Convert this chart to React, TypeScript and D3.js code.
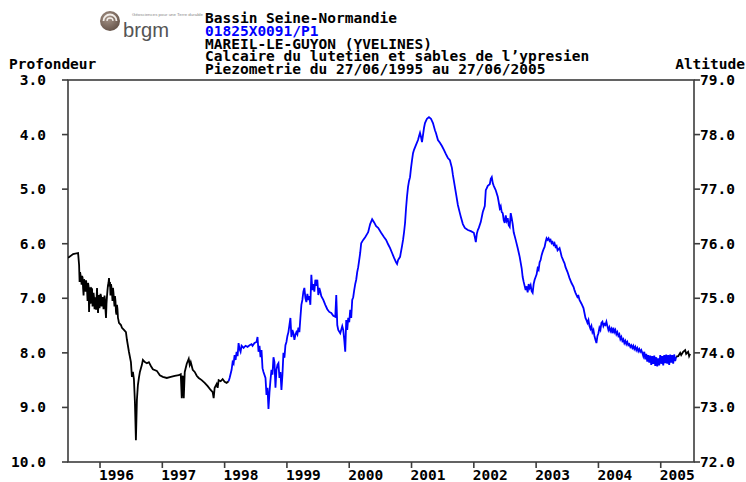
import React from "react";
import * as d3 from "d3";

// Decimal year, depth below ground (m)
const blackEarly: [number, number][] = [
  [1995.488, 6.26], [1995.568, 6.19], [1995.648, 6.17], [1995.664, 6.39], [1995.672, 6.7],
  [1995.68, 6.52], [1995.688, 6.58], [1995.696, 6.63], [1995.704, 6.75], [1995.712, 6.59],
  [1995.72, 6.62], [1995.728, 6.81], [1995.736, 6.95], [1995.744, 6.65], [1995.752, 6.7],
  [1995.76, 6.72], [1995.768, 6.88], [1995.776, 6.67], [1995.784, 6.74], [1995.792, 6.85],
  [1995.8, 7.05], [1995.808, 6.72], [1995.816, 6.78], [1995.824, 7.25], [1995.832, 6.95],
  [1995.84, 6.8], [1995.848, 7.1], [1995.856, 6.9], [1995.864, 6.82], [1995.872, 6.83],
  [1995.88, 7.15], [1995.888, 7.03], [1995.896, 6.9], [1995.904, 6.99], [1995.912, 7.2],
  [1995.92, 7.14], [1995.928, 6.98], [1995.936, 7.21], [1995.944, 7.02], [1995.952, 6.81],
  [1995.96, 7.12], [1995.968, 7.27], [1995.976, 7.05], [1995.984, 6.94], [1995.992, 7.18],
  [1996.0, 7.03], [1996.008, 6.92], [1996.016, 6.96], [1996.024, 7.15], [1996.032, 7.09],
  [1996.04, 6.98], [1996.048, 7.03], [1996.056, 7.2], [1996.064, 7.12], [1996.072, 6.95],
  [1996.08, 7.03], [1996.088, 7.22], [1996.096, 7.36], [1996.104, 7.1], [1996.112, 6.96],
  [1996.12, 6.85], [1996.128, 6.76], [1996.136, 6.72], [1996.144, 6.63], [1996.152, 6.78],
  [1996.16, 6.7], [1996.168, 6.95], [1996.176, 6.74], [1996.184, 6.8], [1996.192, 6.89],
  [1996.2, 7.05], [1996.208, 6.81], [1996.216, 6.9], [1996.224, 7.03], [1996.232, 7.15],
  [1996.24, 6.96], [1996.248, 7.05], [1996.256, 7.25], [1996.264, 7.3], [1996.272, 7.12],
  [1996.28, 7.2], [1996.288, 7.36], [1996.296, 7.4], [1996.304, 7.45], [1996.336, 7.49],
  [1996.352, 7.54], [1996.384, 7.58], [1996.416, 7.62], [1996.432, 7.76], [1996.464, 7.98],
  [1996.496, 8.17], [1996.512, 8.44], [1996.528, 8.35], [1996.544, 8.48], [1996.56, 8.9],
  [1996.576, 9.6], [1996.584, 9.23], [1996.592, 8.86], [1996.608, 8.59], [1996.624, 8.46],
  [1996.64, 8.35], [1996.672, 8.22], [1996.688, 8.13], [1996.72, 8.17], [1996.752, 8.19],
  [1996.784, 8.17], [1996.816, 8.24], [1996.848, 8.3], [1996.912, 8.33], [1996.96, 8.41],
  [1997.008, 8.44], [1997.072, 8.46], [1997.136, 8.44], [1997.2, 8.42], [1997.264, 8.41],
  [1997.296, 8.39], [1997.312, 8.83], [1997.32, 8.46], [1997.328, 8.42], [1997.344, 8.83],
  [1997.36, 8.35], [1997.392, 8.2], [1997.424, 8.11], [1997.44, 8.22], [1997.456, 8.17],
  [1997.488, 8.31], [1997.52, 8.35], [1997.552, 8.42], [1997.584, 8.46], [1997.632, 8.5],
  [1997.68, 8.55], [1997.728, 8.61], [1997.776, 8.68], [1997.808, 8.72], [1997.824, 8.83],
  [1997.84, 8.64], [1997.872, 8.57], [1997.888, 8.64], [1997.904, 8.5], [1997.936, 8.52],
  [1997.968, 8.48], [1998.0, 8.53], [1998.032, 8.55], [1998.064, 8.52],
];

const blueMain: [number, number][] = [
  [1998.064, 8.52], [1998.08, 8.46], [1998.112, 8.31], [1998.128, 8.17], [1998.144, 8.2],
  [1998.16, 8.04], [1998.176, 8.13], [1998.192, 7.98], [1998.208, 8.06], [1998.224, 7.82],
  [1998.24, 7.93], [1998.256, 7.98], [1998.272, 7.87], [1998.304, 7.91], [1998.336, 7.87],
  [1998.368, 7.89], [1998.4, 7.86], [1998.432, 7.84], [1998.448, 7.87], [1998.48, 7.82],
  [1998.512, 7.8], [1998.528, 7.71], [1998.544, 7.98], [1998.56, 7.87], [1998.576, 8.08],
  [1998.592, 7.95], [1998.608, 8.28], [1998.624, 8.35], [1998.656, 8.46], [1998.672, 8.77],
  [1998.688, 8.64], [1998.704, 9.03], [1998.72, 8.72], [1998.736, 8.5], [1998.752, 8.31],
  [1998.768, 8.4], [1998.784, 8.08], [1998.8, 8.17], [1998.816, 8.64], [1998.832, 8.31],
  [1998.848, 8.22], [1998.864, 8.19], [1998.88, 8.46], [1998.896, 8.35], [1998.912, 8.68],
  [1998.928, 8.4], [1998.944, 8.0], [1998.96, 8.09], [1998.976, 7.86], [1998.992, 7.8],
  [1999.008, 7.69], [1999.024, 7.62], [1999.04, 7.49], [1999.056, 7.36], [1999.072, 7.71],
  [1999.088, 7.58], [1999.104, 7.64], [1999.12, 7.76], [1999.136, 7.67], [1999.152, 7.62],
  [1999.168, 7.66], [1999.184, 7.54], [1999.2, 7.62], [1999.216, 7.36], [1999.232, 7.12],
  [1999.248, 7.03], [1999.264, 6.88], [1999.28, 6.81], [1999.296, 6.99], [1999.312, 7.07],
  [1999.328, 6.92], [1999.344, 7.03], [1999.36, 6.96], [1999.376, 7.12], [1999.392, 6.57],
  [1999.408, 6.85], [1999.424, 6.74], [1999.44, 6.88], [1999.456, 6.66], [1999.472, 6.77],
  [1999.488, 6.66], [1999.504, 6.94], [1999.52, 6.81], [1999.536, 6.88], [1999.552, 6.96],
  [1999.584, 7.03], [1999.616, 7.12], [1999.648, 7.2], [1999.68, 7.25], [1999.712, 7.27],
  [1999.744, 7.32], [1999.776, 7.34], [1999.792, 6.94], [1999.808, 7.49], [1999.824, 7.58],
  [1999.856, 7.64], [1999.888, 7.51], [1999.904, 7.58], [1999.92, 7.76], [1999.936, 7.98],
  [1999.952, 7.4], [1999.968, 7.58], [1999.984, 7.36], [2000.0, 7.44], [2000.016, 7.21],
  [2000.032, 7.36], [2000.048, 7.03], [2000.064, 6.98], [2000.08, 6.85], [2000.096, 6.74],
  [2000.112, 6.66], [2000.128, 6.52], [2000.144, 6.43], [2000.16, 6.3], [2000.176, 6.17],
  [2000.192, 5.99], [2000.224, 5.93], [2000.256, 5.88], [2000.288, 5.82], [2000.304, 5.79],
  [2000.336, 5.64], [2000.368, 5.55], [2000.4, 5.61], [2000.432, 5.68], [2000.464, 5.71],
  [2000.512, 5.8], [2000.56, 5.88], [2000.592, 5.93], [2000.624, 6.01], [2000.656, 6.08],
  [2000.688, 6.17], [2000.72, 6.26], [2000.752, 6.34], [2000.768, 6.37], [2000.784, 6.3],
  [2000.816, 6.24], [2000.848, 6.04], [2000.864, 5.93], [2000.88, 5.79], [2000.896, 5.62],
  [2000.912, 5.35], [2000.928, 5.13], [2000.944, 4.96], [2000.96, 4.85], [2000.976, 4.78],
  [2000.992, 4.61], [2001.008, 4.47], [2001.024, 4.34], [2001.04, 4.28], [2001.072, 4.19],
  [2001.104, 4.1], [2001.12, 4.03], [2001.136, 3.97], [2001.152, 4.04], [2001.168, 4.14],
  [2001.184, 4.01], [2001.2, 3.88], [2001.216, 3.79], [2001.232, 3.75], [2001.248, 3.71],
  [2001.28, 3.68], [2001.312, 3.71], [2001.344, 3.79], [2001.376, 3.92], [2001.392, 3.97],
  [2001.424, 4.1], [2001.456, 4.15], [2001.488, 4.21], [2001.52, 4.28], [2001.552, 4.36],
  [2001.584, 4.43], [2001.616, 4.47], [2001.648, 4.61], [2001.664, 4.74], [2001.68, 4.85],
  [2001.712, 5.07], [2001.744, 5.29], [2001.776, 5.44], [2001.792, 5.51], [2001.824, 5.64],
  [2001.856, 5.71], [2001.904, 5.75], [2001.952, 5.77], [2002.0, 5.8], [2002.016, 5.88],
  [2002.032, 5.97], [2002.048, 5.82], [2002.064, 5.75], [2002.08, 5.71], [2002.112, 5.6],
  [2002.144, 5.42], [2002.176, 5.31], [2002.192, 5.02], [2002.208, 4.98], [2002.224, 4.94],
  [2002.256, 4.91], [2002.272, 4.81], [2002.288, 4.78], [2002.304, 4.89], [2002.32, 4.94],
  [2002.336, 4.98], [2002.352, 5.02], [2002.384, 5.14], [2002.4, 5.24], [2002.416, 5.35],
  [2002.432, 5.31], [2002.448, 5.42], [2002.464, 5.44], [2002.48, 5.57], [2002.496, 5.62],
  [2002.512, 5.48], [2002.528, 5.58], [2002.544, 5.53], [2002.56, 5.66], [2002.576, 5.69],
  [2002.592, 5.44], [2002.608, 5.53], [2002.624, 5.64], [2002.64, 5.79], [2002.672, 5.93],
  [2002.704, 6.08], [2002.736, 6.24], [2002.768, 6.45], [2002.784, 6.61], [2002.8, 6.7],
  [2002.832, 6.85], [2002.848, 6.78], [2002.864, 6.89], [2002.88, 6.74], [2002.896, 6.81],
  [2002.912, 6.76], [2002.928, 6.87], [2002.944, 6.9], [2002.96, 6.74], [2002.976, 6.66],
  [2002.992, 6.61], [2003.008, 6.56], [2003.024, 6.45], [2003.04, 6.48], [2003.056, 6.34],
  [2003.072, 6.3], [2003.088, 6.21], [2003.104, 6.15], [2003.12, 6.1], [2003.136, 6.06],
  [2003.152, 5.97], [2003.168, 5.9], [2003.184, 5.93], [2003.2, 5.9], [2003.216, 5.95],
  [2003.232, 5.93], [2003.248, 5.99], [2003.264, 5.97], [2003.28, 6.02], [2003.296, 5.99],
  [2003.312, 6.06], [2003.328, 6.04], [2003.344, 6.12], [2003.376, 6.08], [2003.392, 6.15],
  [2003.408, 6.23], [2003.44, 6.32], [2003.456, 6.36], [2003.472, 6.43], [2003.504, 6.52],
  [2003.536, 6.63], [2003.568, 6.72], [2003.6, 6.79], [2003.616, 6.85], [2003.632, 6.9],
  [2003.664, 6.98], [2003.68, 6.96], [2003.696, 7.03], [2003.728, 7.1], [2003.76, 7.18],
  [2003.776, 7.27], [2003.792, 7.36], [2003.808, 7.4], [2003.824, 7.45], [2003.84, 7.4],
  [2003.856, 7.51], [2003.872, 7.56], [2003.888, 7.51], [2003.904, 7.62], [2003.92, 7.58],
  [2003.936, 7.69], [2003.952, 7.76], [2003.968, 7.82], [2003.984, 7.69], [2004.0, 7.64],
  [2004.016, 7.54], [2004.032, 7.58], [2004.048, 7.45], [2004.064, 7.43], [2004.08, 7.51],
  [2004.096, 7.47], [2004.112, 7.49], [2004.128, 7.43], [2004.144, 7.51], [2004.16, 7.58],
  [2004.176, 7.53], [2004.192, 7.6], [2004.208, 7.56], [2004.224, 7.64], [2004.24, 7.54],
  [2004.256, 7.62], [2004.272, 7.58], [2004.288, 7.66], [2004.304, 7.62], [2004.32, 7.69],
  [2004.336, 7.66], [2004.352, 7.75], [2004.368, 7.71], [2004.384, 7.78], [2004.4, 7.75],
  [2004.416, 7.82], [2004.432, 7.78], [2004.448, 7.84], [2004.464, 7.8], [2004.48, 7.86],
  [2004.496, 7.84], [2004.512, 7.89], [2004.528, 7.86], [2004.544, 7.91], [2004.56, 7.87],
  [2004.576, 7.93], [2004.592, 7.89], [2004.608, 7.95], [2004.624, 7.91], [2004.64, 7.97],
  [2004.656, 7.93], [2004.672, 7.98], [2004.688, 7.95], [2004.704, 8.0], [2004.72, 8.06],
  [2004.736, 7.98], [2004.752, 8.12], [2004.768, 8.02], [2004.784, 8.16], [2004.8, 8.04],
  [2004.816, 8.18], [2004.832, 8.05], [2004.848, 8.22], [2004.864, 8.06], [2004.88, 8.2],
  [2004.896, 8.05], [2004.912, 8.24], [2004.928, 8.08], [2004.944, 8.25], [2004.96, 8.1],
  [2004.976, 8.23], [2004.992, 8.04], [2005.008, 8.2], [2005.024, 8.06], [2005.04, 8.23],
  [2005.056, 8.04], [2005.072, 8.19], [2005.088, 8.03], [2005.104, 8.2], [2005.12, 8.04],
  [2005.136, 8.22], [2005.152, 8.03], [2005.168, 8.18], [2005.184, 8.04], [2005.2, 8.2],
  [2005.216, 8.03], [2005.232, 8.15], [2005.248, 8.07],
];

const blackLate: [number, number][] = [
  [2005.248, 8.07], [2005.28, 8.06], [2005.312, 8.0], [2005.328, 8.04], [2005.36, 7.98],
  [2005.392, 7.95], [2005.408, 8.02], [2005.44, 7.98], [2005.456, 8.06], [2005.472, 8.02],
];

const depthTicks = [3, 4, 5, 6, 7, 8, 9, 10];
const altitudeTicks = [72, 73, 74, 75, 76, 77, 78, 79];
const yearTicks = [1996, 1997, 1998, 1999, 2000, 2001, 2002, 2003, 2004, 2005];
const titleLines = [
  "Bassin Seine-Normandie",
  "01825X0091/P1",
  "MAREIL-LE-GUYON (YVELINES)",
  "Calcaire du lutetien et sables de l\u2019ypresien",
  "Piezometrie du 27/06/1995 au 27/06/2005",
];
const titleColors = ["#000", "#0000ff", "#000", "#000", "#000"];
const startYear = 1995.486;
const endYear = 2005.534;

const W = 746;
const H = 482;
const L = 68, R = 694, T = 80, B = 462;
const FONT = "'DejaVu Sans Mono', 'Liberation Mono', monospace";
const AX = "#3c3c3c";

export default function App() {
  const x = d3.scaleLinear().domain([startYear, endYear]).range([L, R]);
  const yDepth = d3.scaleLinear().domain([3, 10]).range([T, B]);
  const yAlt = d3.scaleLinear().domain([79, 72]).range([T, B]);
  const line = d3
    .line<[number, number]>()
    .x((d) => x(d[0]))
    .y((d) => yDepth(d[1]));

  const txt = { fontFamily: FONT, fontWeight: 700, fontSize: 14.5 } as const;

  return (
    <svg
      width={W}
      height={H}
      style={{ position: "absolute", left: 0, top: 0, background: "#fff" }}
    >
      <defs>
        <clipPath id="plot">
          <rect x={L} y={T} width={R - L} height={B - T} />
        </clipPath>
        <radialGradient id="logoG" cx="0.4" cy="0.35" r="0.75">
          <stop offset="0" stopColor="#a8968a" />
          <stop offset="1" stopColor="#5e4c42" />
        </radialGradient>
      </defs>

      {/* logo */}
      <g>
        <circle cx={110} cy={21} r={10} fill="url(#logoG)" />
        <path d="M103.5,21 A6.5,6.5 0 0 1 116.5,21" fill="none" stroke="#f2eeea" strokeWidth={1.8} />
        <path d="M107,21 A3,3 0 0 1 113,21" fill="none" stroke="#f2eeea" strokeWidth={1.3} />
        <text
          x={123}
          y={37}
          fontFamily="'Liberation Sans', Arial, sans-serif"
          fontSize={21}
          fill="#555"
          textLength={46}
          lengthAdjust="spacingAndGlyphs"
        >
          brgm
        </text>
        <text
          x={132}
          y={16}
          fontFamily="'Liberation Sans', Arial, sans-serif"
          fontSize={4}
          fill="#888"
          textLength={71}
          lengthAdjust="spacingAndGlyphs"
        >
          Géosciences pour une Terre durable
        </text>
      </g>

      {titleLines.map((t, i) => (
        <text key={t} x={205} y={23 + i * 12.8} {...txt} fill={titleColors[i]}>
          {t}
        </text>
      ))}

      <text x={9} y={69} {...txt}>Profondeur</text>
      <text x={745} y={69} {...txt} textAnchor="end">Altitude</text>

      {/* frame */}
      <rect x={L} y={T} width={R - L} height={B - T} fill="none" stroke={AX} strokeWidth={1.6} />

      {depthTicks.map((v) => (
        <g key={"d" + v}>
          <line x1={L - 6} x2={L} y1={yDepth(v)} y2={yDepth(v)} stroke={AX} strokeWidth={1.6} />
          <text x={46} y={yDepth(v) + 5} {...txt} textAnchor="end">
            {v.toFixed(1)}
          </text>
        </g>
      ))}
      {altitudeTicks.map((v) => (
        <g key={"a" + v}>
          <line x1={R} x2={R + 6} y1={yAlt(v)} y2={yAlt(v)} stroke={AX} strokeWidth={1.6} />
          <text x={700} y={yAlt(v) + 5} {...txt}>
            {v.toFixed(1)}
          </text>
        </g>
      ))}
      {yearTicks.map((v) => (
        <g key={"y" + v}>
          <line x1={x(v)} x2={x(v)} y1={B} y2={B + 6} stroke={AX} strokeWidth={1.6} />
          <text x={x(v) - 1} y={480} {...txt}>
            {v}
          </text>
        </g>
      ))}

      <g clipPath="url(#plot)" fill="none" strokeWidth={1.8} strokeLinejoin="miter">
        <path d={line(blackEarly) ?? ""} stroke="#000" />
        <path d={line(blueMain) ?? ""} stroke="#0000ff" />
        <path d={line(blackLate) ?? ""} stroke="#000" />
      </g>
    </svg>
  );
}
